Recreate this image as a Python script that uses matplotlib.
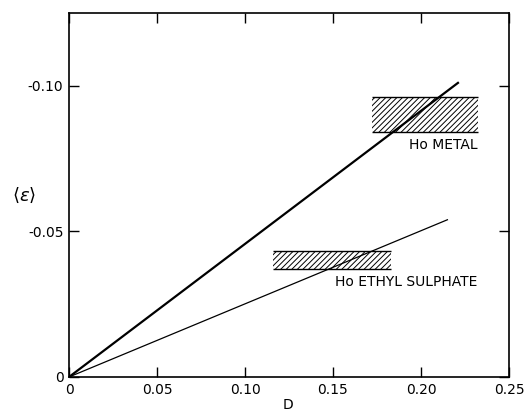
import matplotlib
matplotlib.use('Agg')
import matplotlib.pyplot as plt

# line end points (D, <eps>)
metal_line_x = [0.0, 0.221]
metal_line_y = [0.0, -0.101]
ethyl_line_x = [0.0, 0.215]
ethyl_line_y = [0.0, -0.054]

# hatched ranges: x span, y span
metal_box_x = [0.172, 0.2325]
metal_box_y = [-0.0842, -0.0962]
ethyl_box_x = [0.116, 0.183]
ethyl_box_y = [-0.037, -0.0432]

xticks = [0, 0.05, 0.10, 0.15, 0.20, 0.25]
xticklabels = ['0', '0.05', '0.10', '0.15', '0.20', '0.25']
yticks = [0, -0.05, -0.10]
yticklabels = ['0', '-0.05', '-0.10']

plt.rcParams['hatch.linewidth'] = 0.7

fig = plt.figure(figsize=(5.26, 4.17), dpi=100)
ax = fig.add_axes([69/526, 1 - 377/417, 440/526, 364/417])

ax.plot(metal_line_x, metal_line_y, color='black', lw=1.6)
ax.plot(ethyl_line_x, ethyl_line_y, color='black', lw=0.9)

for bx, by in [(metal_box_x, metal_box_y), (ethyl_box_x, ethyl_box_y)]:
    ax.fill_between(bx, by[0], by[1], facecolor='none', edgecolor='black',
                    hatch='//////', lw=0)
    ax.hlines(by, bx[0], bx[1], color='black', lw=1.0)

ax.text(0.2322, -0.0795, 'Ho METAL', ha='right', va='center', fontsize=10)
ax.text(0.2322, -0.0325, 'Ho ETHYL SULPHATE', ha='right', va='center', fontsize=10)

ax.set_xlim(0, 0.25)
ax.set_ylim(0, -0.125)
ax.set_xticks(xticks)
ax.set_xticklabels(xticklabels, fontsize=10)
ax.set_yticks(yticks)
ax.set_yticklabels(yticklabels, fontsize=10)
ax.tick_params(direction='in', top=True, right=True, length=7, width=1.0, pad=4)
for s in ax.spines.values():
    s.set_linewidth(1.2)

fig.text(288/526, 1 - 405/417, 'D', ha='center', va='center', fontsize=10)
fig.text(24/526, 1 - 195/417, r'$\langle\varepsilon\rangle$', ha='center', va='center', fontsize=13)

fig.savefig('out.png', dpi=100)
